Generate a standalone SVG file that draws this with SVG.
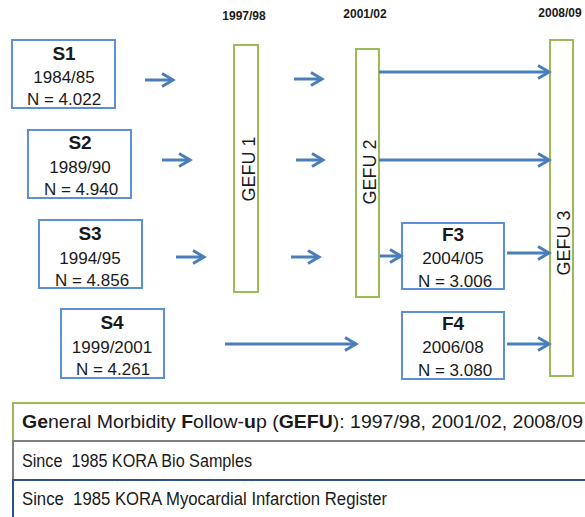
<svg xmlns="http://www.w3.org/2000/svg" width="585" height="517" viewBox="0 0 585 517">
<style>
.box{fill:#fff;stroke:#5b8fd6;stroke-width:2}
.gefu{fill:#fff;stroke:#9bbb59;stroke-width:2}
.t{font-family:"Liberation Sans",Arial,sans-serif;fill:#1a1a1a;text-anchor:middle}
.h{font-size:19px;font-weight:bold}
.n{font-size:17px}
.yr{font-family:"Liberation Sans",Arial,sans-serif;font-size:12px;font-weight:bold;fill:#1a1a1a;text-anchor:middle}
.g{font-family:"Liberation Sans",Arial,sans-serif;font-size:18px;fill:#1a1a1a;text-anchor:middle}
.bar{font-family:"Liberation Sans",Arial,sans-serif;font-size:17.5px;fill:#1a1a1a}
.arr{stroke:#4a7ebb;stroke-width:3;fill:none;marker-end:url(#ah)}
</style>
<defs>
<marker id="ah" markerUnits="userSpaceOnUse" markerWidth="16" markerHeight="16" refX="12" refY="8" orient="auto" overflow="visible">
<path d="M1,1.5 L12,8 L1,14.5" fill="none" stroke="#4a7ebb" stroke-width="3"/>
</marker>
</defs>
<rect width="585" height="517" fill="#fff"/>

<text class="yr" x="244" y="20">1997/98</text>
<text class="yr" x="365" y="18">2001/02</text>
<text class="yr" x="560" y="17">2008/09</text>

<g id="S1"><rect class="box" x="12" y="40" width="103" height="68"/>
<text class="t h" x="64" y="60">S1</text><text class="t n" x="64" y="83">1984/85</text><text class="t n" x="64" y="105">N = 4.022</text></g>
<g id="S2"><rect class="box" x="28" y="130" width="103" height="68"/>
<text class="t h" x="80" y="149">S2</text><text class="t n" x="80" y="173">1989/90</text><text class="t n" x="81" y="195">N = 4.940</text></g>
<g id="S3"><rect class="box" x="39" y="220" width="103" height="68"/>
<text class="t h" x="90" y="240">S3</text><text class="t n" x="90" y="264">1994/95</text><text class="t n" x="92" y="286">N = 4.856</text></g>
<g id="S4"><rect class="box" x="61" y="309" width="103" height="69"/>
<text class="t h" x="112" y="329">S4</text><text class="t n" x="112" y="353">1999/2001</text><text class="t n" x="113" y="375">N = 4.261</text></g>
<g id="F3"><rect class="box" x="402" y="223" width="102" height="66"/>
<text class="t h" x="453" y="241">F3</text><text class="t n" x="453" y="264">2004/05</text><text class="t n" x="455" y="287">N = 3.006</text></g>
<g id="F4"><rect class="box" x="402" y="312" width="102" height="67"/>
<text class="t h" x="453" y="330">F4</text><text class="t n" x="453" y="353">2006/08</text><text class="t n" x="455" y="376">N = 3.080</text></g>

<g id="GEFU1"><rect class="gefu" x="234" y="45" width="24" height="247"/>
<text class="g" transform="translate(255,169) rotate(-90)">GEFU 1</text></g>
<g id="GEFU2"><rect class="gefu" x="356" y="49" width="23" height="248"/>
<text class="g" transform="translate(376,172) rotate(-90)">GEFU 2</text></g>
<g id="GEFU3"><rect class="gefu" x="550" y="40" width="23" height="336"/>
<text class="g" transform="translate(570,243) rotate(-90)">GEFU 3</text></g>

<g id="connectors">
<path class="arr" d="M145,80 H173"/>
<path class="arr" d="M294,79 H322"/>
<path class="arr" d="M379,72 H549"/>
<path class="arr" d="M162,160 H190"/>
<path class="arr" d="M296,160 H323"/>
<path class="arr" d="M379,160 H549"/>
<path class="arr" d="M176,257 H204"/>
<path class="arr" d="M291,257 H319"/>
<path class="arr" d="M380,256 H401"/>
<path class="arr" d="M507,253 H549"/>
<path class="arr" d="M225,344 H356"/>
<path class="arr" d="M507,344 H549"/>
</g>

<g id="legend">
<rect x="13" y="403" width="600" height="38" fill="#fff" stroke="#9bbb59" stroke-width="2"/>
<rect x="13" y="441" width="600" height="39" fill="#fff" stroke="#7f7f7f" stroke-width="2"/>
<rect x="13" y="480" width="600" height="45" fill="#fff" stroke="#2f528f" stroke-width="2"/>
<text class="bar" x="22" y="428" textLength="561" lengthAdjust="spacingAndGlyphs"><tspan font-weight="bold">Ge</tspan>neral Morbidity <tspan font-weight="bold">F</tspan>ollow-<tspan font-weight="bold">u</tspan>p (<tspan font-weight="bold">GEFU</tspan>): 1997/98, 2001/02, 2008/09</text>
<text class="bar" x="22" y="467" textLength="230" lengthAdjust="spacingAndGlyphs" xml:space="preserve">Since  1985 KORA Bio Samples</text>
<text class="bar" x="22" y="505" textLength="365" lengthAdjust="spacingAndGlyphs" xml:space="preserve">Since  1985 KORA Myocardial Infarction Register</text>
</g>
</svg>
